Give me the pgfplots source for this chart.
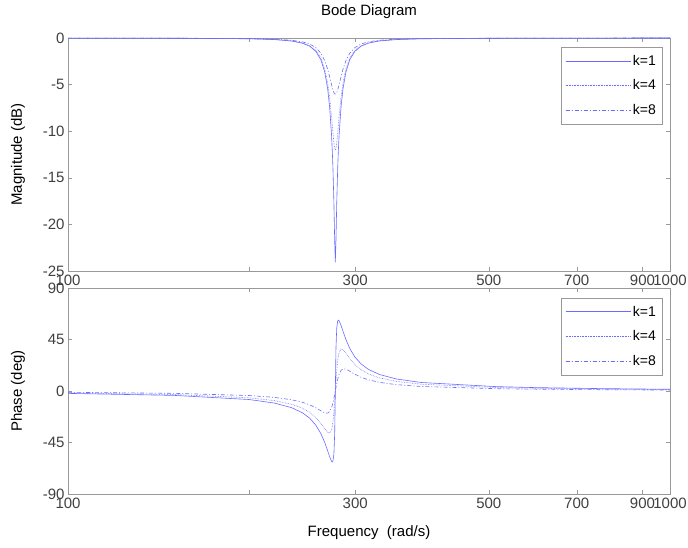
\documentclass[border=0pt]{standalone}
\usepackage{pgfplots}
\pgfplotsset{compat=1.18}
\usepackage{pgfplotstable}
\usepackage{fontspec}
\setmainfont{Liberation Sans}
\definecolor{bl}{rgb}{0.42,0.42,1}
\definecolor{ax}{rgb}{0.60,0.60,0.60}
\definecolor{tx}{rgb}{0.25,0.25,0.25}

\pgfplotstableread{
w m1 p1 m4 p4 m8 p8
100 -0.006 -2.08 -0.006 -1.66 -0.005 -1.11
150 -0.022 -3.82 -0.021 -3.05 -0.017 -2.03
200 -0.083 -7.44 -0.078 -5.94 -0.063 -3.95
220 -0.167 -10.50 -0.157 -8.37 -0.125 -5.55
235 -0.320 -14.49 -0.300 -11.52 -0.239 -7.60
245 -0.552 -18.94 -0.518 -14.99 -0.409 -9.80
252 -0.881 -23.73 -0.824 -18.65 -0.646 -12.06
258 -1.430 -29.81 -1.332 -23.16 -1.031 -14.67
263 -2.317 -37.10 -2.141 -28.22 -1.620 -17.27
267 -3.669 -45.04 -3.342 -33.03 -2.437 -19.12
270 -5.472 -52.29 -4.870 -36.19 -3.366 -19.33
272 -7.393 -57.35 -6.376 -36.81 -4.153 -18.01
274 -10.399 -61.37 -8.395 -33.89 -5.007 -14.58
274.77 -12.041 -61.93 -9.294 -30.96 -5.315 -12.53
275.5 -14.014 -61.14 -10.170 -26.74 -5.576 -10.18
276.5 -17.679 -55.03 -11.256 -18.23 -5.852 -6.43
277.3 -21.681 -37.69 -11.856 -9.08 -5.983 -3.07
278 -24.08 0 -12.04 0 -6.02 0
278.70 -21.681 37.69 -11.856 9.08 -5.983 3.07
279.51 -17.679 55.03 -11.256 18.23 -5.852 6.43
280.52 -14.014 61.14 -10.170 26.74 -5.576 10.18
281.26 -12.041 61.93 -9.294 30.96 -5.315 12.53
282.06 -10.399 61.37 -8.395 33.89 -5.007 14.58
284.13 -7.393 57.35 -6.376 36.81 -4.153 18.01
286.24 -5.472 52.29 -4.870 36.19 -3.366 19.33
289.45 -3.669 45.04 -3.342 33.03 -2.437 19.12
293.86 -2.317 37.10 -2.141 28.22 -1.620 17.27
299.55 -1.430 29.81 -1.332 23.16 -1.031 14.67
306.68 -0.881 23.73 -0.824 18.65 -0.646 12.06
315.44 -0.552 18.94 -0.518 14.99 -0.409 9.80
328.87 -0.320 14.49 -0.300 11.52 -0.239 7.60
351.29 -0.167 10.50 -0.157 8.37 -0.125 5.55
386.42 -0.083 7.44 -0.078 5.94 -0.063 3.95
515.23 -0.022 3.82 -0.021 3.05 -0.017 2.03
600 -0.013 2.96 -0.012 2.37 -0.010 1.58
772.84 -0.006 2.08 -0.006 1.66 -0.005 1.11
1000 -0.003 1.51 -0.003 1.21 -0.002 0.81
}\data

\tikzset{
  c1/.style={color=bl, line width=0.6pt, solid},
  c4/.style={color=bl, line width=0.6pt, densely dotted},
  c8/.style={color=bl, line width=0.6pt, dash pattern=on 4pt off 2pt on 1pt off 2pt},
}

\pgfplotsset{
  bode/.style={
    scale only axis, width=602pt,
    xmin=100, xmax=1000,
    xtick={100,200,300,500,700,900,1000},
    xticklabels={100,,300,500,700,900,1000},
    xminorticks=false, yminorticks=false,
    axis line style={ax}, every tick/.style={ax},
    tick align=inside,
    tick label style={font=\fontsize{15}{15}\selectfont, text=tx},
    /pgf/number format/assume math mode=true,
    label style={font=\fontsize{15}{15}\selectfont, text=black},
    ylabel style={at={(axis description cs:-0.083,0.5)}, anchor=center},
    legend cell align=left,
    legend style={draw=ax, fill=white, font=\fontsize{14}{14}\selectfont,
      inner xsep=4pt, inner ysep=6pt, row sep=9pt},
    legend image code/.code={\draw[#1, draw=bl, line width=0.8pt] (0pt,0pt) -- (58pt,0pt); \path (0pt,0pt) -- (65pt,0pt);},
  },
}

\begin{document}
\begin{tikzpicture}
\begin{semilogxaxis}[bode, at={(68pt,-271pt)}, anchor=south west, height=233pt,
  ymin=-25, ymax=0, ytick={-25,-20,-15,-10,-5,0}, clip=false,
  ylabel={Magnitude (dB)},
  title={Bode Diagram},
  title style={font=\fontsize{15}{15}\selectfont, at={(axis description cs:0.5,1)}, anchor=center, yshift=20pt},
  legend style={at={(axis description cs:0.9867,0.9614)}, anchor=north east}]
\addplot[c1] table[x=w, y=m1] {\data};
\addplot[c4] table[x=w, y=m4] {\data};
\addplot[c8] table[x=w, y=m8] {\data};
\legend{k=1,k=4,k=8}
\end{semilogxaxis}
\begin{semilogxaxis}[bode, at={(68pt,-494pt)}, anchor=south west, height=206pt,
  ymin=-90, ymax=90, ytick={-90,-45,0,45,90},
  ylabel={Phase (deg)},
  xlabel={Frequency\ \ (rad/s)},
  xlabel style={at={(axis description cs:0.5,0)}, anchor=center, yshift=-39pt},
  legend style={at={(axis description cs:0.9867,0.953)}, anchor=north east}]
\addplot[c1] table[x=w, y=p1] {\data};
\addplot[c4] table[x=w, y=p4] {\data};
\addplot[c8] table[x=w, y=p8] {\data};
\legend{k=1,k=4,k=8}
\end{semilogxaxis}
\pgfresetboundingbox
\path[use as bounding box] (0pt,0pt) rectangle (688pt,-547pt);
\end{tikzpicture}
\end{document}
